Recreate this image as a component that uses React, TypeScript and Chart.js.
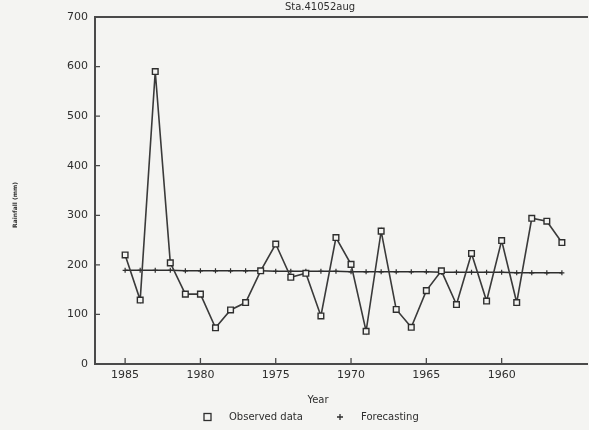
import { useEffect, useRef } from "react";
import { Chart, registerables } from "chart.js";
Chart.register(...registerables);

const chartTitle = "Sta.41052aug";
const xTitle = "Year";
const yTitle = "Rainfall (mm)";
const seriesNames = ["Observed data", "Forecasting"];

const years = [1985, 1984, 1983, 1982, 1981, 1980, 1979, 1978, 1977, 1976, 1975, 1974, 1973, 1972, 1971, 1970, 1969, 1968, 1967, 1966, 1965, 1964, 1963, 1962, 1961, 1960, 1959, 1958, 1957, 1956];
const observed = [220, 129, 590, 204, 141, 141, 73, 109, 124, 188, 242, 175, 183, 97, 255, 201, 66, 268, 110, 74, 148, 188, 120, 223, 127, 249, 124, 294, 288, 245];
const forecast = [189, 189, 189, 189, 188, 188, 188, 188, 188, 188, 187, 187, 187, 187, 187, 186, 186, 186, 186, 186, 186, 185, 185, 185, 185, 185, 184, 184, 184, 184];
const yTicks = [0, 100, 200, 300, 400, 500, 600, 700];
const xTicks = [1985, 1980, 1975, 1970, 1965, 1960];

const PAPER = "#f4f4f2";
const INK = "#2e2e2e";
const FONT = "'DejaVu Sans', sans-serif";

const framePlugin = {
  id: "frame",
  beforeDraw(chart: any) {
    const ctx = chart.ctx;
    ctx.save();
    ctx.fillStyle = PAPER;
    ctx.fillRect(0, 0, chart.width, chart.height);
    ctx.restore();
  },
  afterDraw(chart: any) {
    const ctx = chart.ctx;
    const a = chart.chartArea;
    const xs = chart.scales.x;
    const ys = chart.scales.y;
    ctx.save();
    ctx.strokeStyle = "#4a4a4a";
    ctx.lineWidth = 2;
    ctx.beginPath();
    ctx.moveTo(a.right - 1, a.top);
    ctx.lineTo(a.left, a.top);
    ctx.lineTo(a.left, a.bottom);
    ctx.lineTo(a.right - 1, a.bottom);
    ctx.stroke();
    ctx.lineWidth = 1.3;
    ctx.beginPath();
    for (const v of yTicks) {
      const y = ys.getPixelForValue(v);
      ctx.moveTo(a.left, y);
      ctx.lineTo(a.left + 5, y);
    }
    for (const v of xTicks) {
      const x = xs.getPixelForValue(v);
      ctx.moveTo(x, a.bottom);
      ctx.lineTo(x, a.bottom - 6);
    }
    ctx.stroke();

    ctx.fillStyle = INK;
    ctx.textBaseline = "middle";
    ctx.textAlign = "center";
    ctx.font = `10px ${FONT}`;
    ctx.fillText(chartTitle, 320, 7);
    ctx.fillText(xTitle, 318, 400);

    // y title
    ctx.save();
    ctx.translate(15, 205);
    ctx.rotate(-Math.PI / 2);
    ctx.font = `bold 6px ${FONT}`;
    ctx.fillText(yTitle, 0, 0);
    ctx.restore();

    // legend
    const ly = 417;
    ctx.strokeStyle = INK;
    ctx.lineWidth = 1.3;
    ctx.strokeRect(204, ly - 3.5, 7, 7);
    ctx.beginPath();
    ctx.moveTo(337, ly);
    ctx.lineTo(343, ly);
    ctx.moveTo(340, ly - 3);
    ctx.lineTo(340, ly + 3);
    ctx.stroke();
    ctx.textAlign = "left";
    ctx.font = `10px ${FONT}`;
    ctx.fillText(seriesNames[0], 229, ly);
    ctx.fillText(seriesNames[1], 361, ly);
    ctx.restore();
  },
};

export default function App() {
  const ref = useRef<HTMLCanvasElement>(null);
  useEffect(() => {
    document.body.style.margin = "0";
    document.body.style.background = PAPER;
    const chart = new Chart(ref.current!, {
      type: "line",
      data: {
        datasets: [
          {
            label: seriesNames[1],
            data: years.map((x, i) => ({ x, y: forecast[i] })),
            borderColor: INK,
            borderWidth: 1.6,
            pointStyle: "cross",
            pointRadius: 2.5,
            pointBorderColor: INK,
            pointBorderWidth: 1.2,
            order: 2,
          },
          {
            label: seriesNames[0],
            data: years.map((x, i) => ({ x, y: observed[i] })),
            borderColor: "#3a3a3a",
            borderWidth: 1.6,
            pointStyle: "rect",
            pointRadius: 4,
            pointBackgroundColor: PAPER,
            pointBorderColor: INK,
            pointBorderWidth: 1.4,
            order: 1,
          },
        ],
      },
      options: {
        responsive: false,
        animation: false,
        layout: { autoPadding: false, padding: { top: 17, right: 0, left: 0, bottom: 0 } },
        plugins: { legend: { display: false }, tooltip: { enabled: false }, title: { display: false } },
        scales: {
          x: {
            type: "linear",
            reverse: true,
            min: 1954.2,
            max: 1987,
            grid: { display: false, drawTicks: false },
            border: { display: false },
            afterBuildTicks: (s: any) => {
              s.ticks = xTicks.map((v) => ({ value: v }));
            },
            afterFit: (s: any) => {
              s.height = 66;
              s.paddingLeft = 0;
              s.paddingRight = 0;
            },
            ticks: {
              padding: 5,
              color: INK,
              font: { family: "DejaVu Sans", size: 11 },
              maxRotation: 0,
              callback: (v: any) => String(v),
            },
          },
          y: {
            min: 0,
            max: 700,
            grid: { display: false, drawTicks: false },
            border: { display: false },
            afterBuildTicks: (s: any) => {
              s.ticks = yTicks.map((v) => ({ value: v }));
            },
            afterFit: (s: any) => {
              s.width = 95;
              s.paddingTop = 0;
              s.paddingBottom = 0;
            },
            ticks: {
              padding: 7,
              color: INK,
              font: { family: "DejaVu Sans", size: 11 },
              callback: (v: any) => String(v),
            },
          },
        },
      },
      plugins: [framePlugin],
    });
    return () => chart.destroy();
  }, []);
  return <canvas ref={ref} width={589} height={430} style={{ display: "block" }} />;
}
